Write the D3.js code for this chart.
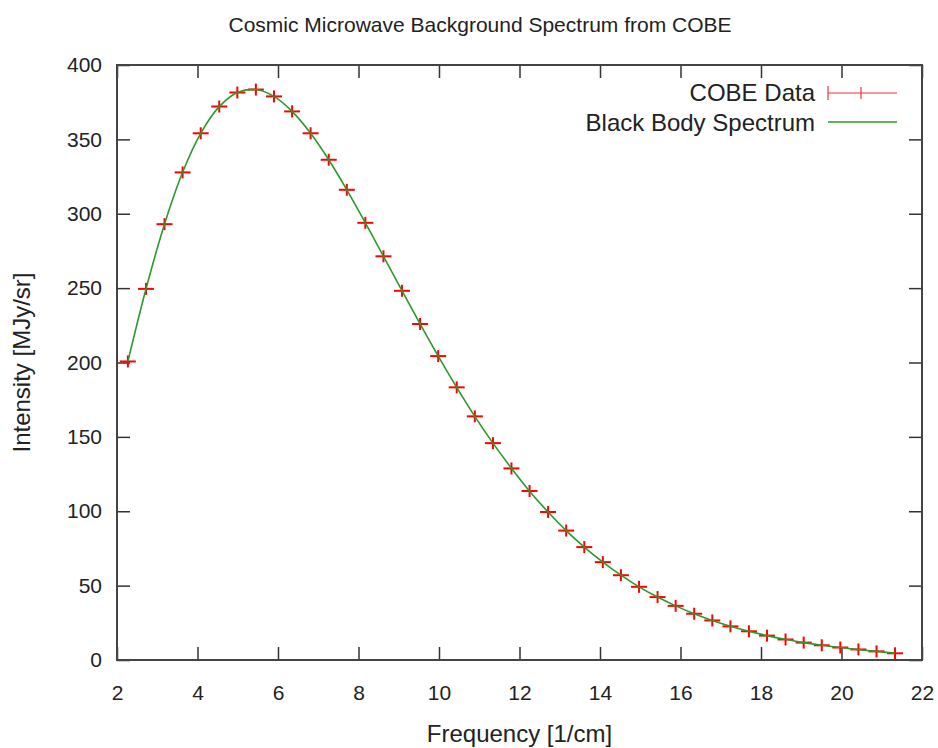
<!DOCTYPE html>
<html>
<head>
<meta charset="utf-8">
<script src="https://cdn.jsdelivr.net/npm/d3@7"></script>
<style>
  body { margin: 0; background: #fff; }
  text { font-family: "Liberation Sans", Arial, sans-serif; fill: #222; }
</style>
</head>
<body>
<div id="chart"></div>
<script>
// Données COBE FIRAS
const frequency = [2.27, 2.72, 3.18, 3.63, 4.08, 4.54, 4.99, 5.45, 5.90, 6.35, 6.81, 7.26, 7.71, 8.17, 8.62,
  9.08, 9.53, 9.98, 10.44, 10.89, 11.34, 11.80, 12.25, 12.71, 13.16, 13.61, 14.07, 14.52, 14.97, 15.43,
  15.88, 16.34, 16.79, 17.24, 17.70, 18.15, 18.61, 19.06, 19.51, 19.97, 20.42, 20.87, 21.33]
const intensity = [200.7, 249.5, 293.0, 327.8, 354.1, 372.1, 381.5, 383.5, 378.9, 368.8, 354.1, 336.3, 316.1, 293.9, 271.4,
  248.2, 225.9, 204.3, 183.3, 163.8, 145.8, 128.8, 113.6, 99.5, 87.0, 75.9, 65.8, 57.0, 49.2, 42.3,
  36.4, 31.1, 26.6, 22.6, 19.3, 16.4, 13.8, 11.7, 9.9, 8.4, 7.1, 5.8, 4.5]
const blackBody = [200.6, 249.4, 293.0, 327.9, 354.1, 372.0, 381.5, 383.5, 378.9, 368.8, 354.1, 336.3, 316.1, 293.9, 271.4,
  248.3, 225.9, 204.3, 183.3, 163.8, 145.8, 128.9, 113.5, 99.5, 87.0, 75.9, 65.8, 57.0, 49.2, 42.3,
  36.4, 31.1, 26.6, 22.7, 19.3, 16.4, 13.9, 11.7, 9.9, 8.4, 7.0, 5.8, 4.5]
const xTicks = [2, 4, 6, 8, 10, 12, 14, 16, 18, 20, 22]
const yTicks = [0, 50, 100, 150, 200, 250, 300, 350, 400]

const width = 938
const height = 748
const margin = {top: 65, right: 16, bottom: 88, left: 117}

const svg = d3.select("#chart")
  .append("svg")
    .attr("width", width)
    .attr("height", height)

const x = d3.scaleLinear()
  .domain([2, 22])
  .range([margin.left, width - margin.right])
const y = d3.scaleLinear()
  .domain([0, 400])
  .range([height - margin.bottom, margin.top])

const tickLen = 13

// Axes (ticks des quatre côtés, comme gnuplot)
function styleAxis(g) {
  g.select(".domain").remove()
  g.selectAll(".tick line").attr("stroke", "#333").attr("stroke-width", 1.5)
  g.selectAll(".tick text").style("font-size", "21px").attr("fill", "#222")
}
svg.append("g")
  .attr("transform", `translate(0,${y(0)})`)
  .call(d3.axisBottom(x).tickValues(xTicks).tickSizeInner(-tickLen).tickSizeOuter(0).tickPadding(25))
  .call(styleAxis)
svg.append("g")
  .attr("transform", `translate(0,${y(400)})`)
  .call(d3.axisTop(x).tickValues(xTicks).tickSizeInner(-tickLen).tickSizeOuter(0).tickFormat(""))
  .call(styleAxis)
svg.append("g")
  .attr("transform", `translate(${x(2)},0)`)
  .call(d3.axisLeft(y).tickValues(yTicks).tickSizeInner(-tickLen).tickSizeOuter(0).tickPadding(15))
  .call(styleAxis)
svg.append("g")
  .attr("transform", `translate(${x(22)},0)`)
  .call(d3.axisRight(y).tickValues(yTicks).tickSizeInner(-tickLen).tickSizeOuter(0).tickFormat(""))
  .call(styleAxis)

// Cadre
svg.append("rect")
  .attr("x", x(2))
  .attr("y", y(400))
  .attr("width", x(22) - x(2))
  .attr("height", y(0) - y(400))
  .attr("fill", "none")
  .attr("stroke", "#444")
  .attr("stroke-width", 2)

// Points COBE (croix + barres d'erreur)
const pts = svg.append("g")
  .selectAll("g")
  .data(frequency)
  .join("g")
    .attr("transform", (d, i) => `translate(${x(d)},${y(intensity[i])})`)
    .attr("stroke", "#f00")
    .attr("stroke-width", 2)
pts.append("line").attr("x1", -8).attr("x2", 8)
pts.append("line").attr("y1", -6).attr("y2", 6)

// Courbe du corps noir
const line = d3.line()
  .x((d, i) => x(frequency[i]))
  .y(d => y(d))
  .curve(d3.curveCatmullRom)
svg.append("path")
  .datum(blackBody)
  .attr("d", line)
  .attr("fill", "none")
  .attr("stroke", "#2a9a2a")
  .attr("stroke-width", 1.6)

// Légende
const keyX = 815
svg.append("text").attr("x", keyX).attr("y", 101).attr("text-anchor", "end")
  .style("font-size", "24px").text("COBE Data")
svg.append("text").attr("x", keyX).attr("y", 131).attr("text-anchor", "end")
  .style("font-size", "24px").text("Black Body Spectrum")
const k1 = svg.append("g").attr("stroke", "#e33").attr("stroke-width", 1.2)
k1.append("line").attr("x1", 828).attr("x2", 897).attr("y1", 93).attr("y2", 93)
k1.append("line").attr("x1", 828).attr("x2", 828).attr("y1", 86).attr("y2", 100)
k1.append("line").attr("x1", 861).attr("x2", 861).attr("y1", 87).attr("y2", 99)
svg.append("line").attr("x1", 828).attr("x2", 897).attr("y1", 122).attr("y2", 122)
  .attr("stroke", "#2a9a2a").attr("stroke-width", 1.6)

// Titres
svg.append("text").attr("x", 480).attr("y", 32).attr("text-anchor", "middle")
  .style("font-size", "21px").text("Cosmic Microwave Background Spectrum from COBE")
svg.append("text").attr("x", (x(2) + x(22)) / 2).attr("y", 742).attr("text-anchor", "middle")
  .style("font-size", "24px").text("Frequency [1/cm]")
svg.append("text")
  .attr("transform", `translate(30,${(y(0) + y(400)) / 2})rotate(-90)`)
  .attr("text-anchor", "middle")
  .style("font-size", "24px").text("Intensity [MJy/sr]")
</script>
</body>
</html>
